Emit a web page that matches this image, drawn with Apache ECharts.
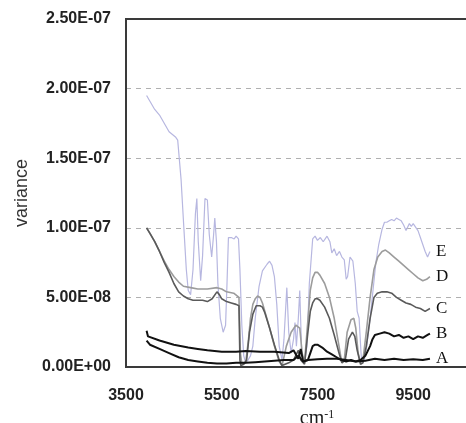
<!DOCTYPE html>
<html>
<head>
<meta charset="utf-8">
<script src="https://cdn.jsdelivr.net/npm/echarts@6/dist/echarts.min.js"></script>
<style>html,body{margin:0;padding:0;background:#fff}#chart{width:466px;height:423px}</style>
</head>
<body>
<div id="chart"></div>
<script>
// x: wavenumber (cm-1), y: variance in units of 1E-08
const xTickLabels = [3500, 5500, 7500, 9500];
const seriesNames = ['E', 'D', 'C', 'B', 'A'];

const curveE = [[3930,19.5],[4100,18.5],[4200,18.1],[4400,16.9],[4540,16.5],[4580,16.3],[4650,13.5],[4700,10.5],[4760,7.0],[4800,5.5],[4850,5.2],[4900,7.0],[4950,11.0],[4980,12.1],[5010,9.0],[5060,6.2],[5100,8.0],[5150,12.1],[5200,12.0],[5240,9.5],[5290,7.9],[5330,9.5],[5355,10.7],[5390,9.0],[5420,6.0],[5470,3.5],[5530,2.5],[5580,3.0],[5610,6.0],[5640,9.3],[5700,9.3],[5760,9.2],[5800,9.4],[5850,9.2],[5880,7.0],[5920,3.0],[5960,0.8],[6000,0.3],[6050,0.5],[6100,0.8],[6150,1.5],[6200,3.5],[6280,5.8],[6350,6.9],[6450,7.4],[6500,7.6],[6550,7.3],[6600,6.5],[6650,4.5],[6700,1.5],[6760,0.5],[6800,2.0],[6860,5.7],[6900,2.5],[6950,1.0],[7000,2.0],[7030,3.2],[7060,1.5],[7100,3.5],[7130,5.5],[7170,1.0],[7230,0.3],[7280,1.5],[7330,6.0],[7400,9.2],[7450,9.4],[7500,9.1],[7560,9.3],[7620,9.0],[7700,9.4],[7760,9.0],[7800,8.2],[7850,8.5],[7900,8.0],[7960,8.3],[8010,7.9],[8060,7.7],[8100,6.3],[8130,6.5],[8180,7.9],[8240,7.6],[8290,6.0],[8330,4.0],[8370,3.5],[8410,1.0],[8430,0.3],[8480,0.5],[8530,1.5],[8600,3.5],[8660,5.5],[8720,7.5],[8780,8.8],[8850,9.9],[8900,10.4],[8950,10.4],[9000,10.5],[9050,10.6],[9100,10.5],[9150,10.7],[9200,10.6],[9250,10.5],[9300,10.2],[9350,9.8],[9380,9.7],[9420,10.3],[9460,10.1],[9500,10.3],[9560,10.0],[9600,9.8],[9650,9.3],[9700,8.8],[9750,8.3],[9800,7.9],[9850,8.3]];

const curveD = [[3930,10.0],[4000,9.6],[4100,9.0],[4200,8.3],[4300,7.6],[4400,7.0],[4500,6.5],[4600,6.1],[4700,5.8],[4850,5.7],[5000,5.6],[5200,5.6],[5400,5.7],[5500,5.6],[5600,5.4],[5750,5.3],[5860,5.0],[5890,1.0],[5920,0.2],[6000,0.3],[6060,2.0],[6100,3.5],[6150,4.5],[6200,4.9],[6250,5.1],[6300,5.0],[6350,4.6],[6400,4.0],[6500,2.8],[6600,1.5],[6700,0.4],[6760,0.1],[6850,1.5],[6950,2.5],[7050,3.0],[7130,2.8],[7180,1.0],[7230,0.3],[7280,2.5],[7350,5.5],[7400,6.4],[7450,6.8],[7500,6.8],[7550,6.6],[7650,6.0],[7750,5.0],[7850,3.5],[7950,1.5],[8010,0.3],[8060,0.5],[8120,2.5],[8200,3.4],[8260,3.5],[8300,2.8],[8350,1.0],[8400,0.3],[8450,0.5],[8520,2.5],[8600,5.0],[8680,7.0],[8760,7.9],[8850,8.3],[8920,8.4],[9000,8.2],[9100,7.9],[9200,7.6],[9300,7.3],[9400,7.0],[9500,6.7],[9600,6.4],[9700,6.2],[9780,6.3],[9850,6.5]];

const curveC = [[3930,10.0],[4000,9.6],[4100,9.0],[4200,8.3],[4300,7.5],[4400,6.8],[4500,6.0],[4600,5.4],[4700,5.1],[4800,4.9],[4900,4.8],[5000,4.8],[5100,4.8],[5200,4.7],[5300,4.9],[5400,5.4],[5450,5.2],[5500,4.9],[5600,4.7],[5700,4.6],[5800,4.5],[5860,4.4],[5880,0.5],[5900,0.1],[5960,0.2],[6020,0.5],[6080,2.5],[6150,3.8],[6220,4.4],[6300,4.4],[6350,4.3],[6400,3.9],[6500,2.8],[6600,1.6],[6700,0.5],[6760,0.1],[6900,0.3],[7000,0.5],[7100,1.2],[7150,0.5],[7230,0.2],[7300,2.5],[7350,4.0],[7400,4.6],[7450,4.9],[7500,4.9],[7550,4.8],[7650,4.3],[7750,3.5],[7850,2.3],[7950,1.0],[8010,0.3],[8080,0.5],[8150,2.0],[8230,2.5],[8280,2.2],[8330,1.2],[8400,0.2],[8450,0.3],[8520,1.5],[8600,3.5],[8680,5.0],[8750,5.3],[8850,5.4],[8950,5.4],[9050,5.3],[9150,5.0],[9250,4.8],[9350,4.6],[9450,4.5],[9550,4.3],[9650,4.2],[9750,4.0],[9850,4.2]];

const curveB = [[3930,2.6],[3960,2.2],[4000,2.2],[4200,1.9],[4500,1.6],[4800,1.4],[5000,1.3],[5200,1.2],[5500,1.1],[5800,1.1],[6000,1.15],[6300,1.1],[6600,1.1],[6900,1.0],[7000,1.2],[7100,0.6],[7150,1.3],[7200,0.4],[7300,0.5],[7350,1.0],[7400,1.5],[7450,1.6],[7500,1.6],[7600,1.4],[7700,1.1],[7800,0.9],[7900,0.7],[8000,0.5],[8100,0.4],[8200,0.5],[8300,0.4],[8400,0.5],[8500,0.8],[8600,1.5],[8650,2.0],[8700,2.3],[8800,2.4],[8900,2.5],[9000,2.4],[9100,2.2],[9200,2.3],[9300,2.1],[9400,2.2],[9500,2.0],[9600,2.2],[9700,2.1],[9800,2.3],[9850,2.4]];

const curveA = [[3930,1.9],[4000,1.6],[4200,1.3],[4400,1.0],[4600,0.7],[4800,0.5],[5000,0.4],[5200,0.3],[5400,0.25],[5600,0.25],[5800,0.3],[6000,0.3],[6200,0.35],[6400,0.4],[6600,0.45],[6800,0.5],[7000,0.5],[7100,0.8],[7200,0.4],[7300,0.5],[7500,0.55],[7700,0.6],[7900,0.6],[8100,0.5],[8300,0.4],[8500,0.45],[8700,0.6],[8900,0.5],[9100,0.6],[9300,0.5],[9500,0.55],[9700,0.5],[9850,0.6]];

const curves = [curveE, curveD, curveC, curveB, curveA];
const colors = ['#b7b7e0', '#9c9c9c', '#5a5a5a', '#111111', '#111111'];
const widths = [1.2, 1.6, 1.6, 2, 2];

function sci(v) {
  if (Math.abs(v) < 1e-20) return '0.00E+00';
  const e = Math.floor(Math.log10(Math.abs(v)) + 1e-9);
  const m = v / Math.pow(10, e);
  return m.toFixed(2) + 'E' + (e < 0 ? '-' : '+') + String(Math.abs(e)).padStart(2, '0');
}

const sans = "'Liberation Sans', Arial, sans-serif";
const serif = "'Liberation Serif', 'Times New Roman', serif";

const chart = echarts.init(document.getElementById('chart'), null, {renderer: 'canvas'});
chart.setOption({
  animation: false,
  backgroundColor: '#fff',
  grid: {left: 126, top: 19, bottom: 56, right: -10, show: true, outerBoundsMode: 'none', containLabel: false,
    borderColor: '#3a3a3a', borderWidth: 2, backgroundColor: 'transparent'},
  xAxis: {
    type: 'value', min: 3500, max: 10812, interval: 500,
    axisLine: {show: true, lineStyle: {color: '#3a3a3a', width: 2}},
    axisTick: {show: false},
    splitLine: {show: false},
    axisLabel: {
      margin: 21, fontFamily: sans, fontSize: 16, fontWeight: 'bold', color: '#222',
      formatter: v => xTickLabels.indexOf(Math.round(v)) >= 0 ? String(Math.round(v)) : ''
    },
    name: '{b|cm}{s|-1}', nameLocation: 'middle', nameGap: 41,
    nameTextStyle: {padding: [0, 0, 0, 32], rich: {
      b: {fontFamily: serif, fontSize: 20, color: '#1a1a1a'},
      s: {fontFamily: serif, fontSize: 12, color: '#1a1a1a', verticalAlign: 'top', padding: [0, 0, 8, 0]}
    }}
  },
  yAxis: {
    type: 'value', min: 0, max: 2.5e-7, interval: 5e-8,
    axisLine: {show: true, lineStyle: {color: '#3a3a3a', width: 2}},
    axisTick: {show: false},
    splitLine: {show: true, showMinLine: false, showMaxLine: false, lineStyle: {color: '#b0b0b0', type: [5, 5], width: 1}},
    axisLabel: {margin: 15, fontFamily: sans, fontSize: 16, fontWeight: 'bold', color: '#222', formatter: v => sci(v)},
    name: 'variance', nameLocation: 'middle', nameGap: 95,
    nameTextStyle: {fontFamily: sans, fontSize: 18, color: '#333'}
  },
  series: curves.map((c, i) => ({
    name: seriesNames[i],
    type: 'line',
    showSymbol: false,
    smooth: false,
    data: c.map(p => [p[0], p[1] * 1e-8]),
    lineStyle: {color: colors[i], width: widths[i]},
    itemStyle: {color: colors[i]},
    endLabel: {show: true, formatter: seriesNames[i], distance: 6,
      fontFamily: serif, fontSize: 17, color: '#111'},
    z: 2 + i
  }))
});
</script>
</body>
</html>
